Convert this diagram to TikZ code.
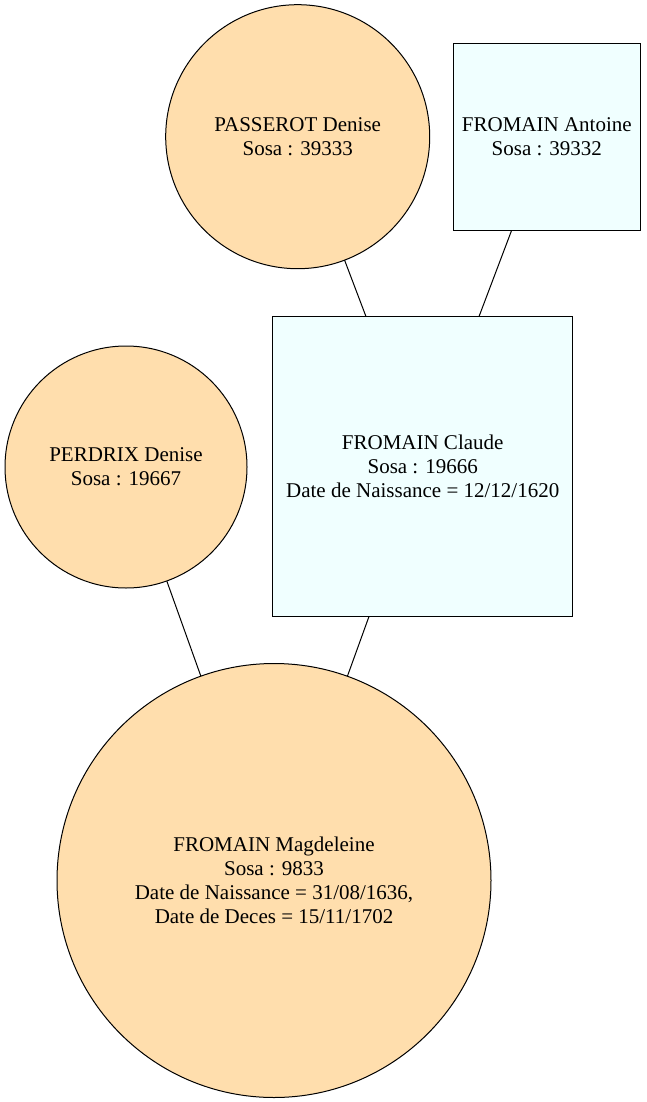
\documentclass[tikz,border=0pt]{standalone}
\usepackage{fontspec}
\setmainfont{Liberation Serif}
\newfontfamily\labelfont{Liberation Serif}
\definecolor{femfill}{HTML}{FFDEAD}
\definecolor{manfill}{HTML}{F0FFFF}
\begin{document}
\begin{tikzpicture}[x=1pt,y=-1pt,
  person/.style={draw=black, line width=1pt, inner sep=0pt, outer sep=0pt, align=center,
    font=\labelfont\fontsize{21}{24}\selectfont},
  woman/.style={person, circle, fill=femfill},
  man/.style={person, rectangle, fill=manfill},
  link/.style={draw=black, line width=1pt}]
\useasboundingbox (0,0) rectangle (646,1102);
\node[woman, minimum size=264pt] (passerot) at (297.7,136.7) {PASSEROT Denise\\Sosa : 39333};
\node[man, minimum width=187pt, minimum height=187pt] (antoine) at (546.8,137) {FROMAIN Antoine\\Sosa : 39332};
\node[man, minimum width=300pt, minimum height=300pt] (claude) at (422.7,466.7) {FROMAIN Claude\\Sosa : 19666\\Date de Naissance = 12/12/1620};
\node[woman, minimum size=242pt] (perdrix) at (126,467) {PERDRIX Denise\\Sosa : 19667};
\node[woman, minimum size=434pt] (magdeleine) at (274,880.5) {FROMAIN Magdeleine\\Sosa : 9833\\Date de Naissance = 31/08/1636,\\Date de Deces = 15/11/1702};
\draw[link] (passerot) -- (claude);
\draw[link] (antoine) -- (claude);
\draw[link] (perdrix) -- (magdeleine);
\draw[link] (claude) -- (magdeleine);
\end{tikzpicture}
\end{document}
